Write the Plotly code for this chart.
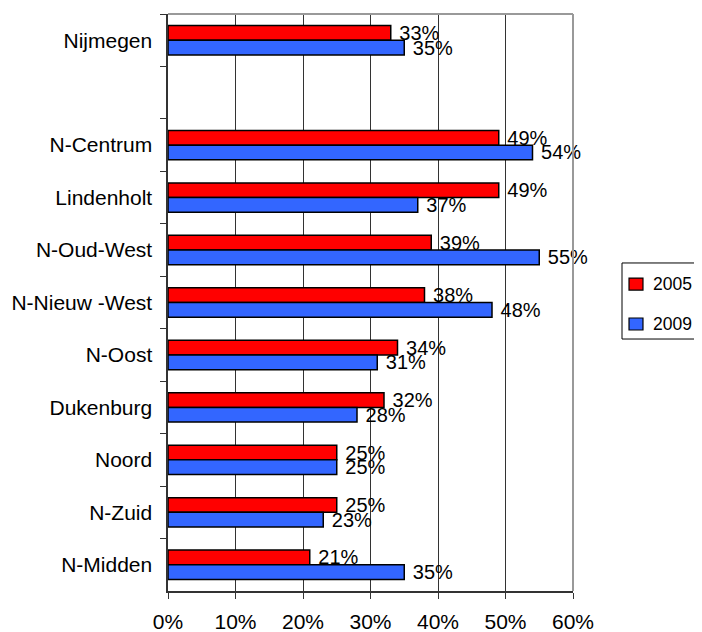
import plotly.graph_objects as go

# categories top to bottom (" " is the empty gap row)
wijken = ['Nijmegen', ' ', 'N-Centrum', 'Lindenholt', 'N-Oud-West', 'N-Nieuw -West',
          'N-Oost', 'Dukenburg', 'Noord', 'N-Zuid', 'N-Midden']
pct_2005 = [33, None, 49, 49, 39, 38, 34, 32, 25, 25, 21]
pct_2009 = [35, None, 54, 37, 55, 48, 31, 28, 25, 23, 35]
x_ticks = [0, 10, 20, 30, 40, 50, 60]
jaren = ['2005', '2009']
kleuren = ['#FF0000', '#3366FF']

FONT = "Liberation Sans, Arial, sans-serif"

fig = go.Figure()
for jaar, kleur, waarden in zip(jaren, kleuren, [pct_2005, pct_2009]):
    fig.add_trace(go.Bar(
        y=wijken, x=waarden, name=jaar, orientation='h',
        marker=dict(color=kleur, line=dict(color='black', width=1.5)),
        text=[f" {v}%" if v is not None else "" for v in waarden],
        textposition='outside', cliponaxis=False, constraintext='none',
        textfont=dict(size=20, color='black', family=FONT),
        showlegend=False,
    ))

# legend drawn by hand: the original box runs off the right edge
shapes = [
    dict(type='line', xref='paper', yref='paper', x0=0, x1=1, y0=1, y1=1,
         line=dict(color='#999999', width=2)),
    dict(type='line', xref='paper', yref='paper', x0=1, x1=1, y0=0, y1=1,
         line=dict(color='#999999', width=2)),
    dict(type='rect', xref='paper', yref='paper', x0=1.121, x1=1.36, y0=0.4367, y1=0.5685,
         line=dict(color='black', width=1), fillcolor='white'),
]
annotations = []
for jaar, kleur, yc in zip(jaren, kleuren, [0.532, 0.4627]):
    shapes.append(dict(type='rect', xref='paper', yref='paper',
                       x0=1.1383, x1=1.1728, y0=yc - 0.0104, y1=yc + 0.0104,
                       line=dict(color='black', width=1.2), fillcolor=kleur))
    annotations.append(dict(xref='paper', yref='paper', x=1.1926, y=yc,
                            xanchor='left', yanchor='middle', showarrow=False,
                            text=jaar, font=dict(size=17.5, color='black')))

# the page body adds an 8px offset, so the figure is 8px smaller each way
fig.update_layout(
    width=694, height=624,
    margin=dict(l=160, r=129, t=6, b=41),
    plot_bgcolor='white', paper_bgcolor='white',
    barmode='group', bargap=0.44, bargroupgap=0,
    uniformtext=dict(minsize=20, mode='show'),
    font=dict(family=FONT, size=21, color='black'),
    showlegend=False,
    xaxis=dict(
        range=[0, 60], tickvals=x_ticks, ticktext=[f"{v}%" for v in x_ticks],
        tickfont=dict(size=21), ticklabelstandoff=5,
        showgrid=True, gridcolor='#333333', gridwidth=1,
        showline=True, linecolor='#333333', linewidth=1.5,
        ticks='outside', ticklen=6, tickcolor='#333333',
        zeroline=False, fixedrange=True, automargin=False,
    ),
    yaxis=dict(
        type='category', categoryorder='array', categoryarray=wijken,
        autorange='reversed', tickson='boundaries',
        tickfont=dict(size=21), ticklabelstandoff=4,
        showgrid=False, showline=True, linecolor='#333333', linewidth=1.5,
        ticks='outside', ticklen=6, tickcolor='#333333',
        ticksuffix=' ', fixedrange=True, automargin=False,
    ),
    shapes=shapes,
    annotations=annotations,
)

fig.write_html("out.html")
